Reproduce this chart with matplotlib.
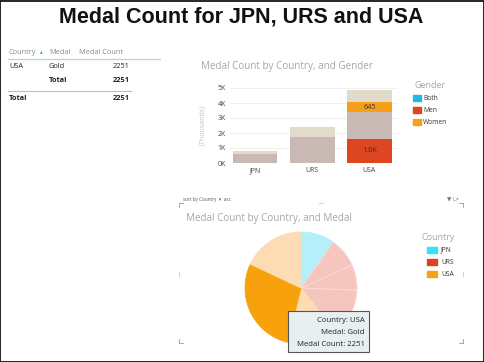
import matplotlib
matplotlib.use("Agg")
import matplotlib.pyplot as plt
from matplotlib.patches import Rectangle
from matplotlib.lines import Line2D
import numpy as np

plt.rcParams['font.family'] = ['Open Sans', 'DejaVu Sans']

# ---------------- data ----------------
title = "Medal Count for JPN, URS and USA"
countries = ["JPN", "URS", "USA"]
genders = ["Both", "Men", "Women"]
men_total = [580, 1710, 3400]
women_total = [200, 670, 1440]
men_gold = [0, 0, 1606]
women_gold = [0, 0, 645]
men_gold_label = "1.6K"
women_gold_label = "645"
yticks = [0, 1000, 2000, 3000, 4000, 5000]
ytick_labels = ["0K", "1K", "2K", "3K", "4K", "5K"]

medals = ["Bronze", "Gold", "Silver"]
pie_jpn = [280, 200, 300]
pie_urs = [690, 580, 1110]
pie_usa = [1150, 2251, 1440]

table_header = ["Country", "Medal", "Medal Count"]
table_row = ["USA", "Gold", "2251"]

# ---------------- figure ----------------
W, H = 485, 362
fig = plt.figure(figsize=(W / 100, H / 100), dpi=100)
fig.patch.set_facecolor("white")

def fx(x):
    return x / W

def fy(y):
    return 1 - y / H

def ftext(x, y, s, **kw):
    fig.text(fx(x), fy(y), s, **kw)

def fline(x0, y0, x1, y1, color, lw=0.8):
    fig.add_artist(Line2D([fx(x0), fx(x1)], [fy(y0), fy(y1)], color=color, lw=lw,
                          transform=fig.transFigure))

# border
fig.add_artist(Rectangle((0.001, 0.001), 0.997, 0.997, fill=False, ec="black", lw=1.2,
                         transform=fig.transFigure))

# title
ftext(241, 17, title, ha="center", va="center", fontsize=15.5, fontweight="bold",
      family=["Liberation Sans", "DejaVu Sans"], color="#111111")

# ---------------- table ----------------
fs_t = 5.3
hc = "#8a8a8a"
ftext(9, 52, table_header[0], fontsize=fs_t, color=hc, va="center")
ftext(40, 52, "\u25B4", fontsize=4, color="#2ea3d8", va="center")
ftext(49, 52, table_header[1], fontsize=fs_t, color=hc, va="center")
ftext(79, 52, table_header[2], fontsize=fs_t, color=hc, va="center")
fline(8, 59, 160, 59, "#a9d6ea", 0.9)
tc = "#222222"
ftext(9, 67, table_row[0], fontsize=fs_t, color=tc, va="center")
ftext(49, 67, table_row[1], fontsize=fs_t, color=tc, va="center")
ftext(130, 67, table_row[2], fontsize=fs_t, color=tc, va="center", ha="right")
ftext(49, 80, "Total", fontsize=fs_t, color=tc, va="center", fontweight="bold")
ftext(130, 80, table_row[2], fontsize=fs_t, color=tc, va="center", ha="right", fontweight="bold")
fline(8, 91, 131, 91, "#bdbdbd", 0.8)
ftext(9, 98, "Total", fontsize=fs_t, color=tc, va="center", fontweight="bold")
ftext(130, 98, table_row[2], fontsize=fs_t, color=tc, va="center", ha="right", fontweight="bold")

# ---------------- bar chart ----------------
grey_title = "#a6a6a6"
ftext(201, 66, "Medal Count by Country, and Gender", fontsize=7.1, color=grey_title, va="center")

c_both = "#25b7e3"
c_men = "#dc4620"
c_women = "#f6a01a"
c_men_fade = "#c9b9b5"
c_women_fade = "#e2dacb"

axb = fig.add_axes([fx(230), fy(163), (398 - 230) / W, (163 - 88) / H])
x = np.arange(len(countries))
bw = 0.78
axb.bar(x, men_total, width=bw, color=c_men_fade, zorder=2)
axb.bar(x, women_total, width=bw, bottom=men_total, color=c_women_fade, zorder=2)
axb.bar(x, men_gold, width=bw, color=c_men, zorder=3)
axb.bar(x, women_gold, width=bw, bottom=men_total, color=c_women, zorder=3)
axb.text(x[2], men_gold[2] / 2, men_gold_label, ha="center", va="center", fontsize=5.2,
         color="#333333", zorder=4)
axb.text(x[2], men_total[2] + women_gold[2] / 2, women_gold_label, ha="center", va="center",
         fontsize=5.2, color="#333333", zorder=4)
axb.set_xlim(-0.44, 2.5)
axb.set_ylim(0, 5000)
axb.set_yticks(yticks)
axb.set_yticklabels(ytick_labels)
axb.set_xticks(x)
axb.set_xticklabels(countries)
axb.tick_params(axis="both", length=0, labelsize=5, colors="#444444", pad=3)
axb.grid(axis="y", color="#ececec", lw=0.6, zorder=0)
for s in axb.spines.values():
    s.set_visible(False)
axb.set_axisbelow(True)
ftext(203, 125, "(Thousands)", fontsize=5, color="#c4c4c4", rotation=90, ha="center", va="center")

# gender legend
ftext(415, 85, "Gender", fontsize=6.5, color=grey_title, va="center")
for i, (g, c) in enumerate(zip(genders, [c_both, c_men, c_women])):
    yy = 98 + 12 * i
    fig.add_artist(Rectangle((fx(413), fy(yy + 3)), 8 / W, 6 / H, color=c, transform=fig.transFigure))
    ftext(423, yy, g, fontsize=4.8, color="#333333", va="center")

# ---------------- pie chart ----------------
fr = "#9a9a9a"
for (x0, y0, dx, dy) in [(179, 203, 1, 1), (463, 203, -1, 1), (179, 343, 1, -1), (463, 343, -1, -1)]:
    fline(x0, y0, x0 + 4 * dx, y0, fr, 0.6)
    fline(x0, y0, x0, y0 + 4 * dy, fr, 0.6)
fline(179, 272, 179, 276, "#c8c8c8", 0.6)
fline(463, 272, 463, 276, "#c8c8c8", 0.6)
fline(319, 203, 323, 203, "#c8c8c8", 0.6)
ftext(183, 200, "sort by Country  \u25BE  asc", fontsize=3.3, color="#555555", va="center")
ftext(447, 200, "\u25BC", fontsize=4, color="#777777", va="center")
ftext(453, 199, "L\u2197", fontsize=3.6, color="#777777", va="center")
ftext(186, 218, "Medal Count by Country, and Medal", fontsize=7.1, color=grey_title, va="center")

c_jpn_fade = "#b4f0fa"
c_urs_fade = "#f4c6bd"
c_usa_fade = "#fddcb4"
c_usa_gold = "#f7a10c"
vals = pie_jpn + pie_urs + pie_usa
cols = [c_jpn_fade] * 3 + [c_urs_fade] * 3 + [c_usa_fade, c_usa_gold, c_usa_fade]
edges = [c_jpn_fade] * 3 + ["#f9dcd6"] * 3 + [c_usa_fade, c_usa_gold, c_usa_fade]
axp = fig.add_axes([fx(245), fy(344), 112 / W, 112 / H])
wedges, _ = axp.pie(vals, colors=cols, startangle=90, counterclock=False, radius=1,
                    wedgeprops=dict(lw=0.6))
for w, e in zip(wedges, edges):
    w.set_edgecolor(e)
axp.set_xlim(-1.0, 1.0)
axp.set_ylim(-1.0, 1.0)
axp.set_aspect("auto")
axp.axis("off")

# country legend
ftext(422, 237, "Country", fontsize=6.5, color=grey_title, va="center")
for i, (cn, c) in enumerate(zip(countries, ["#33e2f6", "#d9431e", "#f7a11a"])):
    yy = 250 + 12 * i
    fig.add_artist(Rectangle((fx(427), fy(yy + 3)), 10 / W, 6 / H, color=c, transform=fig.transFigure))
    ftext(441, yy, cn, fontsize=4.8, color="#333333", va="center")

# tooltip
fig.add_artist(Rectangle((fx(288), fy(352)), 81 / W, 41 / H, fc="#e8eff3", ec="#555555", lw=0.8,
                         transform=fig.transFigure, zorder=5))
for i, s in enumerate(["Country: USA", "Medal: Gold", "Medal Count: 2251"]):
    fig.text(fx(365), fy(320 + 12.5 * i), s, fontsize=5.6, color="#222222", ha="right",
             va="center", zorder=6)

fig.savefig("out.png", dpi=100)
